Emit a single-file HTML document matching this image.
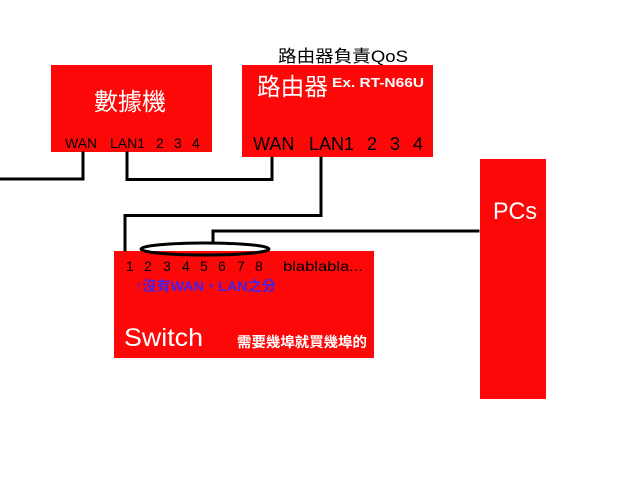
<!DOCTYPE html>
<html>
<head>
<meta charset="utf-8">
<style>
html,body{margin:0;padding:0;background:#fff;}
svg{display:block;}
text{font-family:"Liberation Sans","Noto Sans CJK TC",sans-serif;}
</style>
</head>
<body>
<svg width="640" height="480" viewBox="0 0 640 480" xmlns="http://www.w3.org/2000/svg">
  <rect x="0" y="0" width="640" height="480" fill="#ffffff"/>

  <!-- boxes -->
  <rect x="51" y="65" width="161" height="87" fill="#fc0808"/>
  <rect x="242" y="65" width="191" height="92" fill="#fc0808"/>
  <rect x="114" y="251" width="260" height="107" fill="#fc0808"/>
  <rect x="480" y="159" width="66" height="240" fill="#fc0808"/>

  <!-- connectors -->
  <g fill="none" stroke="#000" stroke-width="3" stroke-linejoin="miter" stroke-linecap="square">
    <path d="M0,179 H83 V153"/>
    <path d="M127,153 V179.5 H272 V158"/>
    <path d="M321,158 V215.5 H125 V250"/>
    <path d="M213,242 V231 H478"/>
  </g>
  <ellipse cx="205" cy="249" rx="64" ry="6" fill="none" stroke="#000" stroke-width="3"/>

  <!-- title above router -->
  <text x="278" y="62" font-size="17" fill="#000" textLength="130" lengthAdjust="spacingAndGlyphs">路由器負責QoS</text>

  <!-- modem -->
  <text x="94" y="110" font-size="24" fill="#fff" textLength="72" lengthAdjust="spacingAndGlyphs">數據機</text>
  <g font-size="14" fill="#000">
    <text x="65" y="148">WAN</text>
    <text x="110" y="148">LAN1</text>
    <text x="156" y="148">2</text>
    <text x="174" y="148">3</text>
    <text x="192" y="148">4</text>
  </g>

  <!-- router -->
  <text x="257" y="95" font-size="24" fill="#fff" textLength="71" lengthAdjust="spacingAndGlyphs">路由器</text>
  <text x="332" y="87" font-size="13" font-weight="bold" fill="#fff" textLength="92" lengthAdjust="spacingAndGlyphs">Ex. RT-N66U</text>
  <g font-size="18" fill="#000">
    <text x="253" y="150">WAN</text>
    <text x="309" y="150">LAN1</text>
    <text x="367" y="150">2</text>
    <text x="390" y="150">3</text>
    <text x="413" y="150">4</text>
  </g>

  <!-- switch -->
  <g font-size="14" fill="#000">
    <text x="126" y="271">1</text>
    <text x="144" y="271">2</text>
    <text x="163" y="271">3</text>
    <text x="182" y="271">4</text>
    <text x="200" y="271">5</text>
    <text x="218" y="271">6</text>
    <text x="237" y="271">7</text>
    <text x="255" y="271">8</text>
    <text x="283" y="271" textLength="80" lengthAdjust="spacingAndGlyphs">blablabla...</text>
  </g>
  <text x="135" y="291" font-size="14" font-weight="bold" fill="#4a1fe6" textLength="141" lengthAdjust="spacingAndGlyphs">↑沒有WAN、LAN之分</text>
  <text x="124" y="346" font-size="25" fill="#fff" textLength="79" lengthAdjust="spacingAndGlyphs">Switch</text>
  <text x="237" y="347" font-size="14" font-weight="bold" fill="#fff" textLength="130" lengthAdjust="spacingAndGlyphs">需要幾埠就買幾埠的</text>

  <!-- PCs -->
  <text x="493" y="219" font-size="24" fill="#fff" textLength="44" lengthAdjust="spacingAndGlyphs">PCs</text>
</svg>
</body>
</html>
